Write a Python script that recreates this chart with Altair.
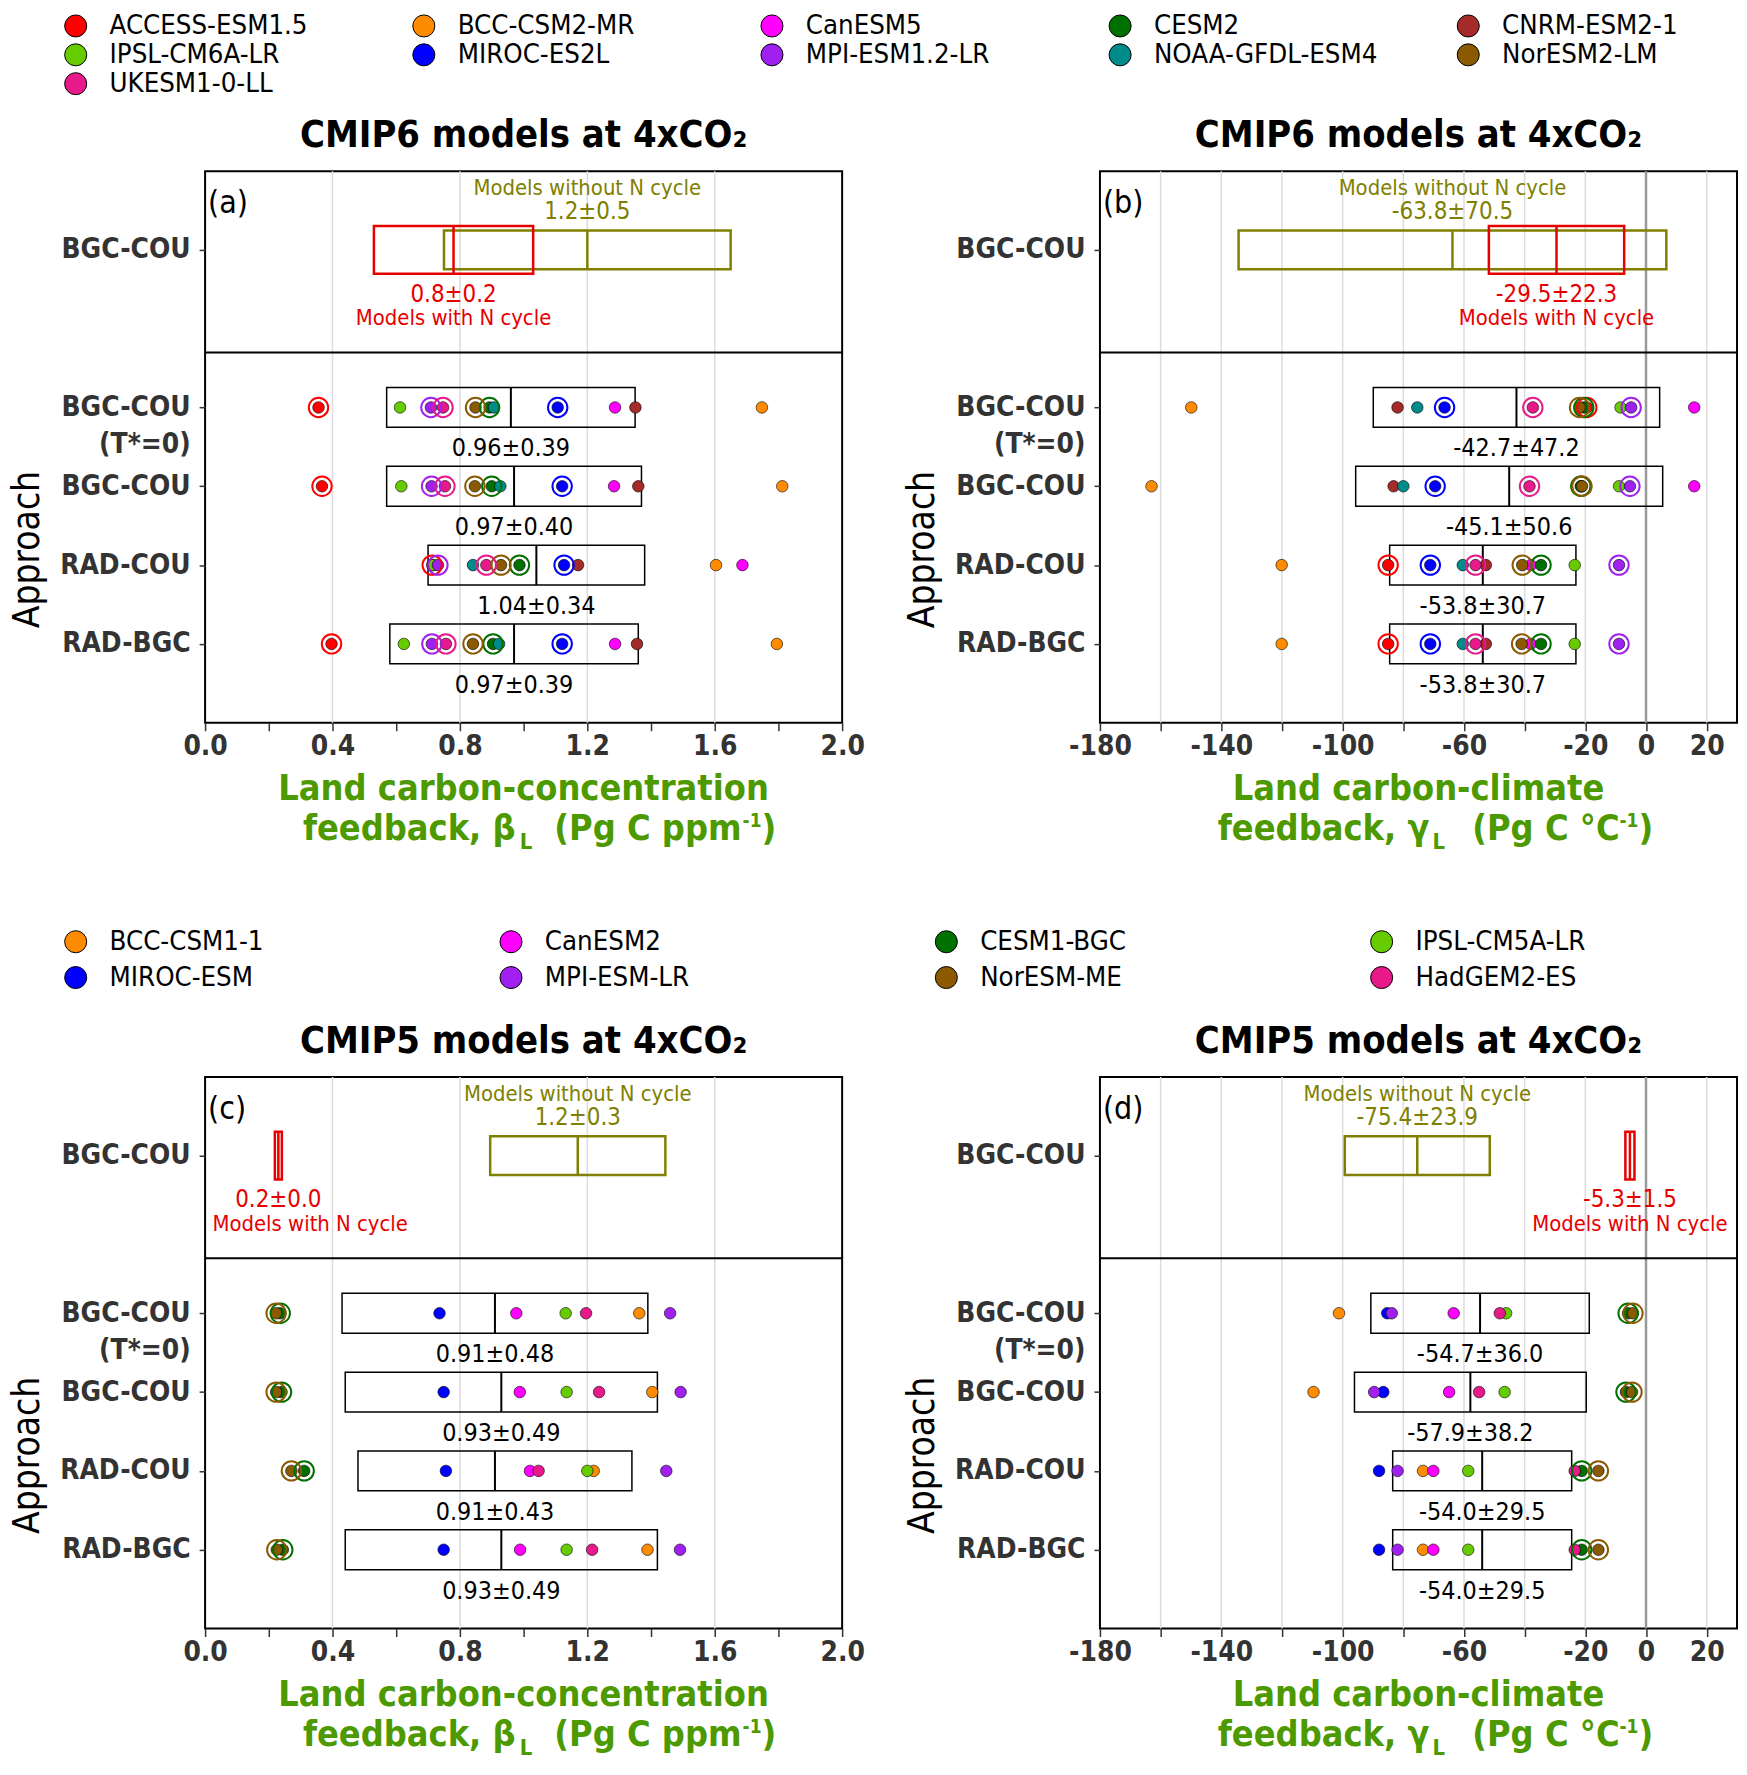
import json
import altair as alt
import pandas as pd

FONT = "DejaVu Sans Condensed, Roboto, DejaVu Sans, sans-serif"

# ---------------- data ----------------
APPROACH_LABEL_EXPR = "split(['BGC-COU','','BGC-COU|(T*=0)','BGC-COU','RAD-COU','RAD-BGC'][datum.value], '|')"

CMIP6_MODELS = ["ACCESS-ESM1.5", "BCC-CSM2-MR", "CanESM5", "CESM2", "CNRM-ESM2-1",
                "IPSL-CM6A-LR", "MIROC-ES2L", "MPI-ESM1.2-LR", "NOAA-GFDL-ESM4",
                "NorESM2-LM", "UKESM1-0-LL"]
CMIP6_COLORS = ["#ff0000", "#ff8c00", "#ff00ff", "#007000", "#a52a2a", "#66cc00",
                "#0000ff", "#a020f0", "#008b8b", "#8b5a00", "#e8198b"]
CMIP6_NCYCLE = [True, False, False, True, False, False, True, True, False, True, True]

BETA6_BGC_T0 = [0.356, 1.748, 1.287, 0.893, 1.351, 0.612, 1.107, 0.709, 0.907, 0.849, 0.747]
BETA6_BGC = [0.367, 1.812, 1.284, 0.900, 1.360, 0.616, 1.121, 0.711, 0.927, 0.847, 0.753]
BETA6_RADCOU = [0.713, 1.604, 1.687, 0.987, 1.171, 0.716, 1.127, 0.731, 0.841, 0.929, 0.883]
BETA6_RADBGC = [0.397, 1.795, 1.287, 0.904, 1.356, 0.624, 1.121, 0.712, 0.923, 0.841, 0.756]
BETA6_MEAN = [0.96, 0.97, 1.04, 0.97]
BETA6_SD = [0.39, 0.40, 0.34, 0.39]
BETA6_TOP_MEAN = [0.78, 1.20]   # [with N cycle, without N cycle]
BETA6_TOP_SD = [0.25, 0.45]

GAMMA6_BGC_T0 = [-19.5, -149.9, 15.9, -20.5, -81.9, -8.4, -66.4, -4.9, -75.4, -21.9, -37.3]
GAMMA6_BGC = [-21.3, -163.0, 15.9, -21.5, -83.2, -8.9, -69.5, -5.3, -80.0, -21.1, -38.4]
GAMMA6_RADCOU = [-85.0, -120.1, -38.0, -34.6, -52.8, -23.5, -71.1, -8.9, -60.4, -40.8, -56.2]
GAMMA6_RADBGC = [-85.0, -120.1, -38.0, -34.6, -52.8, -23.5, -71.1, -8.9, -60.4, -41.0, -56.2]
GAMMA6_MEAN = [-42.7, -45.1, -53.8, -53.8]
GAMMA6_SD = [47.2, 50.6, 30.7, 30.7]
GAMMA6_TOP_MEAN = [-29.5, -63.8]
GAMMA6_TOP_SD = [22.3, 70.5]

CMIP5_MODELS = ["BCC-CSM1-1", "CanESM2", "CESM1-BGC", "IPSL-CM5A-LR",
                "MIROC-ESM", "MPI-ESM-LR", "NorESM-ME", "HadGEM2-ES"]
CMIP5_COLORS = ["#ff8c00", "#ff00ff", "#007000", "#66cc00", "#0000ff", "#a020f0", "#8b5a00", "#e8198b"]
CMIP5_NCYCLE = [False, False, True, False, False, False, True, False]

BETA5_BGC_T0 = [1.363, 0.977, 0.236, 1.132, 0.736, 1.460, 0.223, 1.196]
BETA5_BGC = [1.404, 0.988, 0.240, 1.135, 0.749, 1.493, 0.223, 1.237]
BETA5_RADCOU = [1.220, 1.020, 0.311, 1.200, 0.756, 1.448, 0.271, 1.047]
BETA5_RADBGC = [1.389, 0.989, 0.244, 1.135, 0.749, 1.491, 0.225, 1.215]
BETA5_MEAN = [0.91, 0.93, 0.91, 0.93]
BETA5_SD = [0.48, 0.49, 0.43, 0.49]
BETA5_TOP_MEAN = [0.23, 1.17]
BETA5_TOP_SD = [0.011, 0.275]

GAMMA5_BGC_T0 = [-101.2, -63.4, -5.9, -46.1, -85.3, -83.8, -4.3, -48.2]
GAMMA5_BGC = [-109.6, -64.9, -6.6, -46.6, -86.6, -89.6, -4.6, -55.0]
GAMMA5_RADCOU = [-73.5, -70.1, -21.2, -58.6, -88.0, -81.9, -15.7, -23.5]
GAMMA5_RADBGC = [-73.5, -70.1, -21.2, -58.6, -88.0, -81.9, -15.7, -23.5]
GAMMA5_MEAN = [-54.7, -57.9, -54.0, -54.0]
GAMMA5_SD = [36.0, 38.2, 29.5, 29.5]
GAMMA5_TOP_MEAN = [-5.3, -75.4]
GAMMA5_TOP_SD = [1.5, 23.9]

BETA_TICKS = [0.0, 0.2, 0.4, 0.6, 0.8, 1.0, 1.2, 1.4, 1.6, 1.8, 2.0]
BETA_LABELS = [0.0, 0.4, 0.8, 1.2, 1.6, 2.0]
BETA_GRID = [0.4, 0.8, 1.2, 1.6]
GAMMA_TICKS = [-180, -160, -140, -120, -100, -80, -60, -40, -20, 0, 20]
GAMMA_LABELS = [-180, -140, -100, -60, -20, 0, 20]
GAMMA_GRID = [-160, -140, -120, -100, -80, -60, -40, -20, 20]

# ---------------- layout / style ----------------
PW, PH = 640, 554
Y_DOMAIN = [-0.996, 6.0]
BOX_HALF = 0.2527
TOP_HALF_N, TOP_HALF_NON = 0.303, 0.246
RED, OLIVE, GREEN_T = "#e60000", "#808000", "#4c9900"
ROW_GAP = 356
TOP_OF_A = 169  # page position of panel (a) top, used to place the legends


def note(text, x, y, size, weight="normal", color="black", align="center",
         baseline="alphabetic", angle=0):
    mk = dict(font=FONT, fontSize=size, fontWeight=weight, color=color,
              align=align, baseline=baseline)
    if angle:
        mk["angle"] = angle
    return alt.Chart(pd.DataFrame({"t": [text]})).mark_text(**mk).encode(
        x=alt.value(x), y=alt.value(y), text="t:N")


def legend_layer(models, colors, ncols, x0, xstep, y0, ystep):
    n = len(models)
    df = pd.DataFrame({"model": models, "color": colors,
                       "col": [i % ncols for i in range(n)],
                       "row": [i // ncols for i in range(n)]})
    lx = alt.Scale(domain=[-x0 / xstep, (PW - x0) / xstep], nice=False, zero=False)
    ly = alt.Scale(domain=[-y0 / ystep, (PH - y0) / ystep], reverse=True, nice=False, zero=False)
    base = alt.Chart(df).encode(x=alt.X("col:Q", scale=lx, axis=None),
                                y=alt.Y("row:Q", scale=ly, axis=None))
    dots = base.mark_circle(size=490, opacity=1, stroke="black", strokeWidth=1).encode(
        color=alt.Color("color:N", scale=None))
    txt = base.mark_text(font=FONT, fontSize=27.5, align="left", baseline="middle",
                         dx=34, color="black").encode(text="model:N")
    return alt.layer(dots, txt)


def panel(letter, title, models, colors, ncycle, rows, means, sds, top_means, top_sds,
          xdomain, tick_vals, grid_vals, label_expr, dec, xt1, xt_main, xt_unit, pos,
          zero_line=False, n_dx=0, legend=None):
    xs = alt.Scale(domain=xdomain, nice=False, zero=False)
    ys = alt.Scale(domain=Y_DOMAIN, reverse=True, nice=False, zero=False)
    xaxis = alt.Axis(values=tick_vals, labelExpr=label_expr, grid=False, domain=False,
                     tickSize=8, tickWidth=1.5, tickColor="#333333", labelFont=FONT,
                     labelFontSize=28, labelFontWeight="bold", labelColor="#333333",
                     labelPadding=2, labelFlush=False, labelOverlap=False, labelBound=False,
                     title=None)
    yaxis = alt.Axis(values=[0, 2, 3, 4, 5], labelExpr=APPROACH_LABEL_EXPR, grid=False,
                     domain=False, tickSize=6, tickWidth=1.5, tickColor="#333333",
                     labelFont=FONT, labelFontSize=28, labelFontWeight="bold",
                     labelColor="#333333", labelPadding=9, labelLineHeight=37,
                     labelOverlap=False, labelBound=False, title=None)

    def X(f):
        return alt.X(f, type="quantitative", scale=xs, axis=xaxis)

    def Y(f):
        return alt.Y(f, type="quantitative", scale=ys, axis=yaxis)

    layers = []
    layers.append(alt.Chart(pd.DataFrame({"g": grid_vals})).mark_rule(
        color="#dcdcdc", strokeWidth=1.5).encode(x=X("g")))
    if zero_line:
        layers.append(alt.Chart(pd.DataFrame({"z": [0]})).mark_rule(
            color="#999999", strokeWidth=2.5).encode(x=X("z")))
    layers.append(alt.Chart(pd.DataFrame({"d": [0]})).mark_rule(
        color="black", strokeWidth=2).encode(x=alt.value(0), x2=alt.value(PW), y=alt.value(182)))

    # top sub-panel: models with / without N cycle
    tdec = dec - 1 if dec > 1 else dec
    fmt = "{:.%df}\u00b1{:.%df}" % (tdec, tdec)
    top = pd.DataFrame({
        "grp": ["non", "N"],
        "mean": [top_means[1], top_means[0]],
        "sd": [top_sds[1], top_sds[0]],
        "color": [OLIVE, RED],
        "half": [TOP_HALF_NON, TOP_HALF_N],
        "name": ["Models without N cycle", "Models with N cycle"],
    })
    top["lo"] = top["mean"] - top["sd"]
    top["hi"] = top["mean"] + top["sd"]
    top["ylo"] = -top["half"]
    top["yhi"] = top["half"]
    top["y"] = 0.0
    top["stat"] = [fmt.format(m, s) for m, s in zip(top["mean"], top["sd"])]
    tb = alt.Chart(top)
    layers.append(tb.mark_rect(fillOpacity=0, strokeWidth=2.5).encode(
        x=X("lo"), x2="hi:Q", y=Y("ylo"), y2="yhi:Q", stroke=alt.Stroke("color:N", scale=None)))
    layers.append(tb.mark_rule(strokeWidth=2.5).encode(
        x=X("mean"), y=Y("ylo"), y2="yhi:Q", stroke=alt.Stroke("color:N", scale=None)))
    non = tb.transform_filter(alt.datum.grp == "non")
    nn = tb.transform_filter(alt.datum.grp == "N")
    layers.append(non.mark_text(font=FONT, fontSize=22, color=OLIVE, baseline="middle", dy=-62).encode(
        x=X("mean"), y=Y("y"), text="name:N"))
    layers.append(non.mark_text(font=FONT, fontSize=24, color=OLIVE, baseline="middle", dy=-38).encode(
        x=X("mean"), y=Y("y"), text="stat:N"))
    layers.append(nn.mark_text(font=FONT, fontSize=24, color=RED, baseline="middle", dy=45).encode(
        x=X("mean"), y=Y("y"), text="stat:N"))
    layers.append(nn.mark_text(font=FONT, fontSize=22, color=RED, baseline="middle", dy=69, dx=n_dx).encode(
        x=X("mean"), y=Y("y"), text="name:N"))

    # bottom sub-panel: approach boxes
    bfmt = "{:.%df}\u00b1{:.%df}" % (dec, dec)
    boxes = pd.DataFrame({"row": [2, 3, 4, 5], "mean": means, "sd": sds})
    boxes["lo"] = boxes["mean"] - boxes["sd"]
    boxes["hi"] = boxes["mean"] + boxes["sd"]
    boxes["ylo"] = boxes["row"] - BOX_HALF
    boxes["yhi"] = boxes["row"] + BOX_HALF
    boxes["label"] = [bfmt.format(m, s) for m, s in zip(means, sds)]
    bb = alt.Chart(boxes)
    layers.append(bb.mark_rect(fillOpacity=0, stroke="black", strokeWidth=1.5).encode(
        x=X("lo"), x2="hi:Q", y=Y("ylo"), y2="yhi:Q"))
    layers.append(bb.mark_rule(color="black", strokeWidth=2).encode(
        x=X("mean"), y=Y("ylo"), y2="yhi:Q"))
    layers.append(bb.mark_text(font=FONT, fontSize=25, color="black", baseline="middle", dy=41).encode(
        x=X("mean"), y=Y("row"), text="label:N"))

    recs = []
    for i, m in enumerate(models):
        for r, vals in enumerate(rows):
            recs.append(dict(model=m, color=colors[i], ring=ncycle[i], row=r + 2, val=vals[i]))
    pts = pd.DataFrame(recs)
    layers.append(alt.Chart(pts).mark_circle(size=135, opacity=1, stroke="black", strokeWidth=0.6).encode(
        x=X("val"), y=Y("row"), color=alt.Color("color:N", scale=None)))
    layers.append(alt.Chart(pts[pts["ring"]]).mark_point(
        shape="circle", filled=False, size=380, strokeWidth=2, opacity=1).encode(
        x=X("val"), y=Y("row"), stroke=alt.Stroke("color:N", scale=None)))

    # annotations
    layers.append(note(letter, 3, 32, 32, align="left", baseline="middle"))
    layers.append(note(title, PW / 2, -35, 38, weight="bold", baseline="middle"))
    layers.append(note("Approach", -167, 380, 37, angle=270))
    layers.append(note(xt1, PW / 2, PH + 78, 36, weight="bold", color=GREEN_T))
    layers.append(note(xt_main, pos[0], PH + 118, 36, weight="bold", color=GREEN_T, align="right"))
    layers.append(note("L", pos[1], PH + 127, 22, weight="bold", color=GREEN_T, align="left"))
    layers.append(note(xt_unit, pos[2], PH + 118, 36, weight="bold", color=GREEN_T, align="right"))
    layers.append(note("-1", pos[3], PH + 105, 19, weight="bold", color=GREEN_T, align="left"))
    layers.append(note(")", pos[4], PH + 118, 36, weight="bold", color=GREEN_T, align="left"))

    main = alt.layer(*layers)
    if legend is not None:
        return alt.layer(main, legend).resolve_scale(x="independent", y="independent").properties(
            width=PW, height=PH)
    return main.properties(width=PW, height=PH)


BETA_LABEL_EXPR = "indexof(%s, datum.value) >= 0 ? format(datum.value, '.1f') : ''" % json.dumps(BETA_LABELS)
GAMMA_LABEL_EXPR = "indexof(%s, datum.value) >= 0 ? '' + datum.value : ''" % json.dumps(GAMMA_LABELS)

BETA_POS = [312, 316, 539, 540, 559]
GAMMA_POS = [331, 334, 522, 522, 541]

leg6 = legend_layer(CMIP6_MODELS, CMIP6_COLORS, 5, -130, 349.75, -146, 29)
leg5 = legend_layer(CMIP5_MODELS, CMIP5_COLORS, 4, -130, 437.33, 943 - (TOP_OF_A + PH + ROW_GAP), 36)

pa = panel("(a)", "CMIP6 models at 4xCO\u2082", CMIP6_MODELS, CMIP6_COLORS, CMIP6_NCYCLE,
           [BETA6_BGC_T0, BETA6_BGC, BETA6_RADCOU, BETA6_RADBGC], BETA6_MEAN, BETA6_SD,
           BETA6_TOP_MEAN, BETA6_TOP_SD, [0, 2], BETA_TICKS, BETA_GRID, BETA_LABEL_EXPR, 2,
           "Land carbon-concentration", "feedback, \u03b2", "(Pg C ppm", BETA_POS, legend=leg6)
pb = panel("(b)", "CMIP6 models at 4xCO\u2082", CMIP6_MODELS, CMIP6_COLORS, CMIP6_NCYCLE,
           [GAMMA6_BGC_T0, GAMMA6_BGC, GAMMA6_RADCOU, GAMMA6_RADBGC], GAMMA6_MEAN, GAMMA6_SD,
           GAMMA6_TOP_MEAN, GAMMA6_TOP_SD, [-180, 30], GAMMA_TICKS, GAMMA_GRID, GAMMA_LABEL_EXPR, 1,
           "Land carbon-climate", "feedback, \u03b3", "(Pg C \u00b0C", GAMMA_POS, zero_line=True)
pc = panel("(c)", "CMIP5 models at 4xCO\u2082", CMIP5_MODELS, CMIP5_COLORS, CMIP5_NCYCLE,
           [BETA5_BGC_T0, BETA5_BGC, BETA5_RADCOU, BETA5_RADBGC], BETA5_MEAN, BETA5_SD,
           BETA5_TOP_MEAN, BETA5_TOP_SD, [0, 2], BETA_TICKS, BETA_GRID, BETA_LABEL_EXPR, 2,
           "Land carbon-concentration", "feedback, \u03b2", "(Pg C ppm", BETA_POS,
           n_dx=32, legend=leg5)
pd_ = panel("(d)", "CMIP5 models at 4xCO\u2082", CMIP5_MODELS, CMIP5_COLORS, CMIP5_NCYCLE,
            [GAMMA5_BGC_T0, GAMMA5_BGC, GAMMA5_RADCOU, GAMMA5_RADBGC], GAMMA5_MEAN, GAMMA5_SD,
            GAMMA5_TOP_MEAN, GAMMA5_TOP_SD, [-180, 30], GAMMA_TICKS, GAMMA_GRID, GAMMA_LABEL_EXPR, 1,
            "Land carbon-climate", "feedback, \u03b3", "(Pg C \u00b0C", GAMMA_POS, zero_line=True)

chart = alt.concat(pa, pb, pc, pd_, columns=2, spacing={"row": ROW_GAP, "column": 259},
                   bounds="flush").properties(
    padding={"top": -2, "bottom": -3, "left": 0, "right": 0}).configure_view(
    stroke="black", strokeWidth=2)

chart.save("out.html", embed_options={"renderer": "svg", "actions": False})
